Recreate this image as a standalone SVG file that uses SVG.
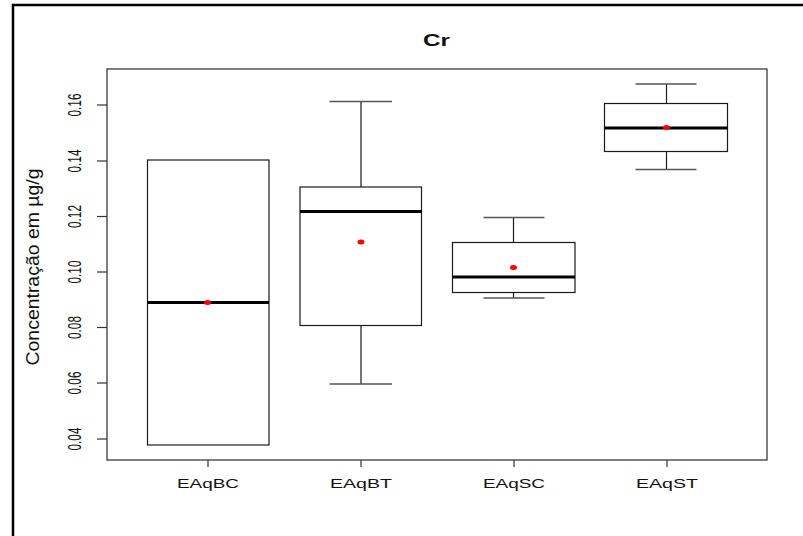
<svg xmlns="http://www.w3.org/2000/svg" width="803" height="536" viewBox="0 0 803 536">
<style>
  .frame { fill: none; stroke: #2a2a2a; stroke-width: 1.2; }
  .box { fill: #ffffff; stroke: #1a1a1a; stroke-width: 1.2; }
  .wh { stroke: #1a1a1a; stroke-width: 1.2; fill: none; }
  .cap { stroke: #555555; stroke-width: 1.3; fill: none; }
  .med { stroke: #000000; stroke-width: 3; }
  .mean { fill: #ff0000; }
  .tick { stroke: #333333; stroke-width: 1.2; }
  .lab { font-family: "Liberation Sans", Arial, sans-serif; fill: #111111; }
</style>
<rect x="0" y="0" width="803" height="536" fill="#ffffff"/>
<rect x="13" y="5" width="800" height="540" fill="none" stroke="#000000" stroke-width="2.5"/>

<text class="lab" x="436.5" y="46" font-size="16.8" font-weight="bold" text-anchor="middle" textLength="27" lengthAdjust="spacingAndGlyphs">Cr</text>

<g id="axes">
  <rect class="frame" x="107" y="69" width="660" height="391"/>
  <line class="tick" x1="97" y1="105" x2="107" y2="105"/>
  <line class="tick" x1="97" y1="161" x2="107" y2="161"/>
  <line class="tick" x1="97" y1="216.5" x2="107" y2="216.5"/>
  <line class="tick" x1="97" y1="272" x2="107" y2="272"/>
  <line class="tick" x1="97" y1="327.5" x2="107" y2="327.5"/>
  <line class="tick" x1="97" y1="383" x2="107" y2="383"/>
  <line class="tick" x1="97" y1="439" x2="107" y2="439"/>
  <g class="lab" font-size="18" text-anchor="middle">
    <text transform="translate(81,105) rotate(-90)" textLength="23" lengthAdjust="spacingAndGlyphs">0.16</text>
    <text transform="translate(81,161) rotate(-90)" textLength="23" lengthAdjust="spacingAndGlyphs">0.14</text>
    <text transform="translate(81,216.5) rotate(-90)" textLength="23" lengthAdjust="spacingAndGlyphs">0.12</text>
    <text transform="translate(81,272) rotate(-90)" textLength="23" lengthAdjust="spacingAndGlyphs">0.10</text>
    <text transform="translate(81,327.5) rotate(-90)" textLength="23" lengthAdjust="spacingAndGlyphs">0.08</text>
    <text transform="translate(81,383) rotate(-90)" textLength="23" lengthAdjust="spacingAndGlyphs">0.06</text>
    <text transform="translate(81,439) rotate(-90)" textLength="23" lengthAdjust="spacingAndGlyphs">0.04</text>
  </g>
  <text class="lab" font-size="18" text-anchor="middle" transform="translate(39,267) rotate(-90)" textLength="197" lengthAdjust="spacingAndGlyphs">Concentração em µg/g</text>
  <line class="tick" x1="208" y1="460" x2="208" y2="467"/>
  <line class="tick" x1="361" y1="460" x2="361" y2="467"/>
  <line class="tick" x1="514" y1="460" x2="514" y2="467"/>
  <line class="tick" x1="667" y1="460" x2="667" y2="467"/>
  <g class="lab" font-size="12.6" text-anchor="middle">
    <text x="208" y="488" textLength="62" lengthAdjust="spacingAndGlyphs">EAqBC</text>
    <text x="361" y="488" textLength="62" lengthAdjust="spacingAndGlyphs">EAqBT</text>
    <text x="514" y="488" textLength="62" lengthAdjust="spacingAndGlyphs">EAqSC</text>
    <text x="667" y="488" textLength="62" lengthAdjust="spacingAndGlyphs">EAqST</text>
  </g>
</g>

<g id="box-EAqBC">
  <rect class="box" x="147.5" y="160" width="121.5" height="285"/>
  <line class="med" x1="147.5" y1="302.5" x2="269" y2="302.5"/>
  <ellipse class="mean" cx="207.5" cy="302.5" rx="3.5" ry="2.5"/>
</g>

<g id="box-EAqBT">
  <line class="wh" x1="361" y1="101.5" x2="361" y2="187"/>
  <line class="wh" x1="361" y1="325.5" x2="361" y2="384"/>
  <line class="cap" x1="329.5" y1="101.5" x2="392" y2="101.5"/>
  <line class="cap" x1="329.5" y1="384" x2="392" y2="384"/>
  <rect class="box" x="300" y="187" width="121.5" height="138.5"/>
  <line class="med" x1="300" y1="211.5" x2="421.5" y2="211.5"/>
  <ellipse class="mean" cx="361" cy="242" rx="3.5" ry="2.5"/>
</g>

<g id="box-EAqSC">
  <line class="wh" x1="513.5" y1="217.5" x2="513.5" y2="242.5"/>
  <line class="wh" x1="513.5" y1="292.5" x2="513.5" y2="298"/>
  <line class="cap" x1="483.5" y1="217.5" x2="544.5" y2="217.5"/>
  <line class="cap" x1="483.5" y1="298" x2="544.5" y2="298"/>
  <rect class="box" x="452.5" y="242.5" width="122.5" height="50"/>
  <line class="med" x1="452.5" y1="277" x2="575" y2="277"/>
  <ellipse class="mean" cx="513.5" cy="267.5" rx="3.5" ry="2.5"/>
</g>

<g id="box-EAqST">
  <line class="wh" x1="666.5" y1="84" x2="666.5" y2="103.5"/>
  <line class="wh" x1="666.5" y1="151.5" x2="666.5" y2="169.5"/>
  <line class="cap" x1="635.5" y1="84" x2="696.5" y2="84"/>
  <line class="cap" x1="635.5" y1="169.5" x2="696.5" y2="169.5"/>
  <rect class="box" x="604.5" y="103.5" width="123" height="48"/>
  <line class="med" x1="604.5" y1="128" x2="727.5" y2="128"/>
  <ellipse class="mean" cx="666.5" cy="127.5" rx="3.5" ry="2.5"/>
</g>
</svg>
